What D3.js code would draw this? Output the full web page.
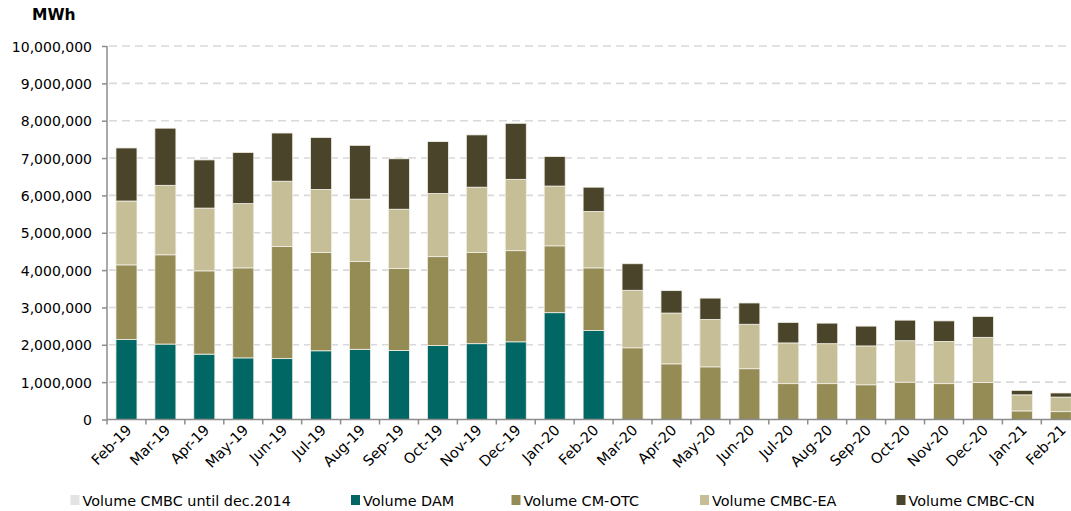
<!DOCTYPE html>
<html>
<head>
<meta charset="utf-8">
<script src="https://cdn.jsdelivr.net/npm/d3@7"></script>
<style>
  html, body { margin: 0; padding: 0; background: #ffffff; }
  svg { display: block; }
  text { font-family: "DejaVu Sans", Verdana, sans-serif; fill: #000; }
</style>
</head>
<body>
<svg id="chart" width="1071" height="511"></svg>
<script>
const months = ["Feb-19","Mar-19","Apr-19","May-19","Jun-19","Jul-19","Aug-19","Sep-19","Oct-19","Nov-19","Dec-19","Jan-20","Feb-20","Mar-20","Apr-20","May-20","Jun-20","Jul-20","Aug-20","Sep-20","Oct-20","Nov-20","Dec-20","Jan-21","Feb-21"];

const cmbc2014 = [0,0,0,0,0,0,0,0,0,0,0,0,0,0,0,0,0,0,0,0,0,0,0,0,0];
const dam    = [2140000,2020000,1750000,1650000,1630000,1840000,1880000,1850000,1980000,2030000,2080000,2860000,2380000,0,0,0,0,0,0,0,0,0,0,0,0];
const cmOtc  = [2000000,2390000,2230000,2410000,3000000,2630000,2350000,2190000,2380000,2440000,2440000,1790000,1680000,1920000,1490000,1410000,1360000,960000,960000,930000,1000000,960000,990000,230000,210000];
const cmbcEa = [1710000,1860000,1680000,1720000,1750000,1690000,1670000,1590000,1690000,1750000,1910000,1600000,1510000,1540000,1360000,1270000,1190000,1090000,1070000,1040000,1110000,1130000,1210000,430000,390000];
const cmbcCn = [1420000,1530000,1290000,1370000,1290000,1390000,1440000,1350000,1390000,1400000,1500000,790000,650000,710000,600000,570000,570000,550000,550000,530000,550000,550000,560000,120000,110000];

const yTicks = [0,1000000,2000000,3000000,4000000,5000000,6000000,7000000,8000000,9000000,10000000];

const seriesNames = ["Volume CMBC until dec.2014","Volume DAM","Volume CM-OTC","Volume CMBC-EA","Volume CMBC-CN"];
const seriesColors = ["#e3e3e3","#006765","#958b54","#c5be97","#4a442a"];
const seriesData = [cmbc2014, dam, cmOtc, cmbcEa, cmbcCn];

const table = months.map((m, i) => {
  const row = { month: m };
  seriesNames.forEach((s, k) => row[s] = seriesData[k][i]);
  return row;
});

const svg = d3.select("#chart");
const x0 = 107, yBase = 419.5, yTop = 46;

const x = d3.scaleBand().domain(months).range([x0, x0 + 25 * 38.93]).paddingInner(0.46).paddingOuter(0.23);
const y = d3.scaleLinear().domain([0, 10000000]).range([yBase, yTop]);

// gridlines
svg.append("g").selectAll("line").data(yTicks.filter(d => d > 0)).join("line")
  .attr("x1", x0 + 2).attr("x2", 1071)
  .attr("y1", d => y(d)).attr("y2", d => y(d))
  .attr("stroke", "#d9d9d9").attr("stroke-width", 1.6).attr("stroke-dasharray", "8,5");

// bars
const stack = d3.stack().keys(seriesNames)(table);
svg.append("g").selectAll("g").data(stack).join("g")
  .attr("fill", (d, i) => seriesColors[i])
  .selectAll("rect").data(d => d.filter(p => p[1] - p[0] > 0)).join("rect")
  .attr("x", d => x(d.data.month))
  .attr("width", x.bandwidth())
  .attr("y", d => y(d[1]))
  .attr("height", d => y(d[0]) - y(d[1]))
  .attr("stroke", "#f2f0e6").attr("stroke-width", 0.8);

// y axis
const yAxis = d3.axisLeft(y).tickValues(yTicks).tickSize(5).tickFormat(d3.format(","));
const gy = svg.append("g").attr("transform", `translate(${x0},0)`).call(yAxis);
gy.select(".domain").attr("stroke", "#8c8c8c").attr("stroke-width", 1.5).attr("d", `M0,${yTop}V${yBase}`);
gy.selectAll(".tick line").attr("stroke", "#8c8c8c").attr("stroke-width", 1.5);
gy.selectAll(".tick text").attr("x", -15).attr("dy", "0.36em")
  .style("font-size", "14px").style("font-family", "'DejaVu Sans', Verdana, sans-serif").attr("fill", "#000");

// x axis
const xAxis = d3.axisBottom(x).tickSize(0).tickFormat("");
const gx = svg.append("g").attr("transform", `translate(0,${yBase})`).call(xAxis);
gx.select(".domain").attr("stroke", "#8c8c8c").attr("stroke-width", 1.5).attr("d", `M${x0},0H1071`);
gx.selectAll(".tick").remove();
// boundary ticks
const bounds = months.map(m => x(m) - x.step() * x.paddingInner() / 2);
svg.append("g").selectAll("line").data(bounds).join("line")
  .attr("x1", d => d).attr("x2", d => d)
  .attr("y1", yBase).attr("y2", yBase + 5)
  .attr("stroke", "#8c8c8c").attr("stroke-width", 1.5);

// x labels
svg.append("g").selectAll("text").data(months).join("text")
  .attr("text-anchor", "end")
  .attr("transform", d => `translate(${x(d) + x.bandwidth() / 2 + 6},${431}) rotate(-45)`)
  .style("font-size", "14.5px")
  .text(d => d);

// unit label
svg.append("text").attr("x", 32).attr("y", 19.5)
  .style("font-size", "15.5px").style("font-weight", "bold").text("MWh");

// legend
const legendX = [70.5, 351, 511.5, 700, 896.5];
const lg = svg.append("g").selectAll("g").data(seriesNames).join("g")
  .attr("transform", (d, i) => `translate(${legendX[i]},0)`);
lg.append("rect").attr("x", 0).attr("y", 495).attr("width", 9).attr("height", 10)
  .attr("fill", (d, i) => seriesColors[i]);
lg.append("text").attr("x", 12).attr("y", 506).style("font-size", "14.4px").text(d => d);
</script>
</body>
</html>
